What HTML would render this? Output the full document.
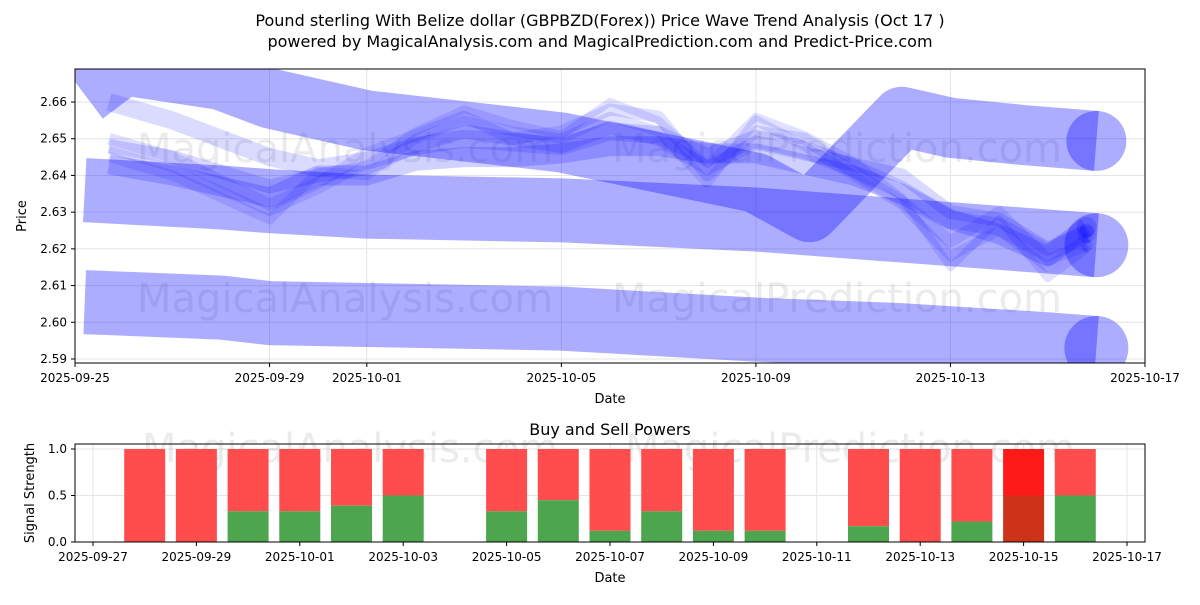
<!DOCTYPE html>
<html><head><meta charset="utf-8"><style>
body{margin:0;background:#fff;font-family:"Liberation Sans","DejaVu Sans",sans-serif}
svg text{font-family:"DejaVu Sans","Liberation Sans",sans-serif}
</style></head><body>
<svg id="c" width="1200" height="600" xmlns="http://www.w3.org/2000/svg">
<rect width="1200" height="600" fill="#fff"/>
<text x="600" y="26" text-anchor="middle" font-size="16">Pound sterling With Belize dollar (GBPBZD(Forex)) Price Wave Trend Analysis (Oct 17 )</text>
<text x="600" y="47" text-anchor="middle" font-size="16">powered by MagicalAnalysis.com and MagicalPrediction.com and Predict-Price.com</text>
<g id="top"></g><g id="bot"></g>
</svg>
<script>
// ---- data ----
const topXTicks=["2025-09-25","2025-09-29","2025-10-01","2025-10-05","2025-10-09","2025-10-13","2025-10-17"];
const topXTickDays=[0,4,6,10,14,18,22];
const topYTicks=[2.59,2.60,2.61,2.62,2.63,2.64,2.65,2.66];
const bandDays=[0.2,3,4,6,10,14,17,20,21];
const bandLow=[2.6055,2.604,2.6025,2.602,2.601,2.598,2.5965,2.594,2.593];
const bandMid=[2.636,2.634,2.633,2.6315,2.6305,2.628,2.625,2.622,2.621];
const bandHighDays=[0.2,1,3,4,6,10,14,15.1,17,18,19.5,21];
const bandHigh=[2.662,2.670,2.666,2.661,2.655,2.649,2.638,2.630,2.656,2.653,2.651,2.6494];
const waveDays=[0.7,2,4,5,6,7,8,9,10,11,12,13,14,15,16,17,18,19,20,20.8];
const wave1=[2.648,2.645,2.637,2.640,2.642,2.648,2.652,2.650,2.648,2.653,2.650,2.642,2.649,2.646,2.643,2.640,2.630,2.628,2.620,2.625];
const wave2=[2.645,2.640,2.628,2.641,2.640,2.650,2.655,2.652,2.650,2.656,2.652,2.638,2.655,2.648,2.640,2.632,2.618,2.625,2.615,2.623];
const wave3=[2.660,2.655,2.645,2.642,2.644,2.648,2.650,2.649,2.648,2.652,2.651,2.645,2.650,2.647,2.642,2.636,2.628,2.626,2.619,2.624];
const wave4=[2.650,2.645,2.632,2.638,2.646,2.651,2.656,2.650,2.652,2.658,2.656,2.640,2.652,2.650,2.641,2.633,2.622,2.630,2.617,2.621];
const wave5=[2.643,2.640,2.634,2.640,2.640,2.644,2.645,2.645,2.646,2.648,2.648,2.646,2.646,2.643,2.640,2.635,2.628,2.624,2.618,2.626];
const wave6=[2.647,2.642,2.630,2.636,2.643,2.652,2.658,2.654,2.651,2.660,2.655,2.643,2.656,2.651,2.644,2.634,2.615,2.628,2.612,2.620];
const botDates=["09-28","09-29","09-30","10-01","10-02","10-03","10-05","10-06","10-07","10-08","10-09","10-10","10-12","10-13","10-14","10-15","10-16"];
const botDays=[1,2,3,4,5,6,8,9,10,11,12,13,15,16,17,18,19];
const buyVals=[0,0,0.33,0.33,0.39,0.5,0.33,0.45,0.12,0.33,0.12,0.12,0.17,0,0.22,0.5,0.5];
const botXTicks=["2025-09-27","2025-09-29","2025-10-01","2025-10-03","2025-10-05","2025-10-07","2025-10-09","2025-10-11","2025-10-13","2025-10-15","2025-10-17"];
const botYTicks=[0,0.5,1.0];
// ---- helpers ----
const NS="http://www.w3.org/2000/svg";
function mk(p,t,a){const e=document.createElementNS(NS,t);for(const k in a)e.setAttribute(k,a[k]);p.appendChild(e);return e;}
const X=d=>75+d*1070/22, Y=v=>359-(v-2.59)*3671;
const topG=document.getElementById('top'), botG=document.getElementById('bot');
topYTicks.forEach((v,i)=>{const y=Y(v);mk(topG,'line',{x1:75,x2:1145,y1:y,y2:y,stroke:'#e4e4e4'});
 mk(topG,'line',{x1:71,x2:75,y1:y,y2:y,stroke:'#000'});
 const t=mk(topG,'text',{x:67,y:y+4,'text-anchor':'end','font-size':12});t.textContent=v.toFixed(2);
 
 });
topXTickDays.forEach((d,i)=>{const x=X(d);mk(topG,'line',{x1:x,x2:x,y1:69,y2:363,stroke:'#e4e4e4'});
 mk(topG,'line',{x1:x,x2:x,y1:363,y2:367,stroke:'#000'});
 const t=mk(topG,'text',{x:x,y:382,'text-anchor':'middle','font-size':12});t.textContent=topXTicks[i];
 
 });
[[345,162,'MagicalAnalysis.com'],[837,162,'MagicalPrediction.com'],[345,312,'MagicalAnalysis.com'],[837,312,'MagicalPrediction.com']].forEach(w=>{
 const t=mk(topG,'text',{x:w[0],y:w[1],'text-anchor':'middle','font-size':40,fill:'rgba(120,120,120,0.15)'});t.textContent=w[2];
 
 });
const clip=mk(topG,'clipPath',{id:'cp'});mk(clip,'rect',{x:75,y:69,width:1070,height:294});
const g=mk(topG,'g',{'clip-path':'url(#cp)'});


function line(days,vals,w,op){const pts=days.map((d,i)=>X(d)+','+Y(vals[i])).join(' ');
 const p=mk(g,'polyline',{points:pts,fill:'none',stroke:'rgb(0,0,255)','stroke-opacity':op,'stroke-width':w,'stroke-linejoin':'round','stroke-linecap':'butt'});
 const n=days.length-1;mk(g,'circle',{cx:X(days[n]),cy:Y(vals[n]),r:w/2,fill:'rgb(0,0,255)','fill-opacity':op});
 return p;}
let p;
p=line(bandDays,bandLow,64,0.32);
p=line(bandDays,bandMid,64,0.32);
p=line(bandHighDays,bandHigh,60,0.32);
[[wave1,14,0.15],[wave2,10,0.12],[wave3,18,0.14],[wave4,12,0.12],[wave5,20,0.18],[wave6,8,0.12]].forEach(w=>{
 p=line(waveDays,w[0],w[1],w[2]);});
mk(topG,'rect',{x:75,y:69,width:1070,height:294,fill:'none',stroke:'#000'});
let tx=mk(topG,'text',{x:610,y:403,'text-anchor':'middle','font-size':13});tx.textContent='Date';

tx=mk(topG,'text',{x:26,y:216,'text-anchor':'middle','font-size':13,transform:'rotate(-90 26 216)'});tx.textContent='Price';

// ---- bottom ----
const BX=d=>93+d*1034/20, BY=v=>542-v*93;
tx=mk(botG,'text',{x:610,y:435,'text-anchor':'middle','font-size':16});tx.textContent='Buy and Sell Powers';

botYTicks.forEach(v=>{const y=BY(v);mk(botG,'line',{x1:75,x2:1145,y1:y,y2:y,stroke:'#e4e4e4'});
 mk(botG,'line',{x1:71,x2:75,y1:y,y2:y,stroke:'#000'});
 const tt=mk(botG,'text',{x:67,y:y+4,'text-anchor':'end','font-size':12});tt.textContent=v.toFixed(1);
 });
botXTicks.forEach((s,i)=>{const x=BX(i*2);mk(botG,'line',{x1:x,x2:x,y1:444,y2:542,stroke:'#e4e4e4'});
 mk(botG,'line',{x1:x,x2:x,y1:542,y2:546,stroke:'#000'});
 const tt=mk(botG,'text',{x:x,y:561,'text-anchor':'middle','font-size':12});tt.textContent=s;
 });
[[350,462,'MagicalAnalysis.com'],[850,462,'MagicalPrediction.com']].forEach(w=>{
 const tt=mk(botG,'text',{x:w[0],y:w[1],'text-anchor':'middle','font-size':40,fill:'rgba(120,120,120,0.15)'});tt.textContent=w[2];
 });
botDays.forEach((d,i)=>{const x=BX(d)-20.5,b=buyVals[i];const strong=i===15;
 const r=mk(botG,'rect',{x:x,y:BY(1),width:41,height:BY(b)-BY(1),fill:strong?'#ff1a1a':'#ff4d4d'});
 
 const gr=mk(botG,'rect',{x:x,y:BY(b),width:41,height:BY(0)-BY(b),fill:strong?'#cc3319':'#4da64d'});
 });
mk(botG,'rect',{x:75,y:444,width:1070,height:98,fill:'none',stroke:'#000'});
tx=mk(botG,'text',{x:610,y:582,'text-anchor':'middle','font-size':13});tx.textContent='Date';

tx=mk(botG,'text',{x:34,y:493,'text-anchor':'middle','font-size':13,transform:'rotate(-90 34 493)'});tx.textContent='Signal Strength';

</script>
</body></html>
